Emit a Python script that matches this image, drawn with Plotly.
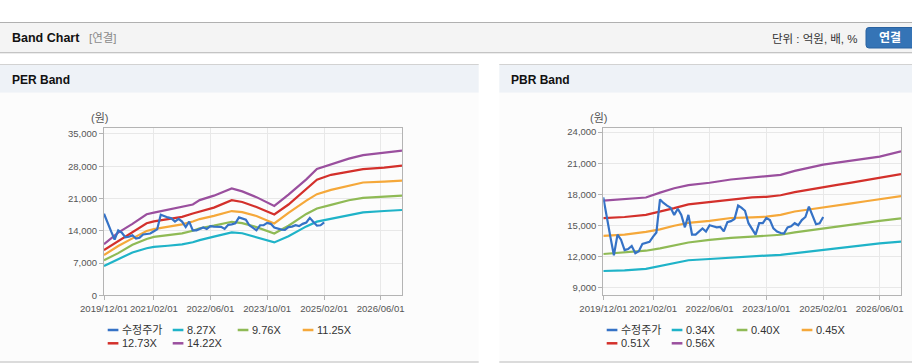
import plotly.graph_objects as go
import pandas as pd

# ---------------- data ----------------
price_dates = pd.date_range("2019-12-01", "2025-02-01", freq="MS")
price = [17700, 15600, 13800, 12100, 14100, 13600, 12600, 12700, 13000, 12300,
         12500, 13200, 13300, 13400, 13900, 14300, 17500, 17150, 16900, 16700,
         16000, 16600, 16000, 14800, 16000, 14100, 14100, 14400, 14700, 14400,
         15000, 14900, 14800, 14850, 14400, 15300, 15400, 15600, 16900, 16700,
         16400, 15200, 14600, 14100, 15200, 15200, 15700, 15500, 14700, 14400,
         14250, 14200, 14800, 14900, 15200, 15000, 15500, 15800, 16800, 15900,
         15100, 15200, 15800]

per_dates = ["2019-12-01", "2020-04-01", "2020-08-01", "2020-12-01", "2021-02-01",
             "2021-06-01", "2021-10-01", "2022-01-01", "2022-03-01", "2022-07-01",
             "2022-12-01", "2023-03-01", "2023-07-01", "2023-12-01", "2024-04-01",
             "2024-09-01", "2024-12-01", "2025-04-01", "2025-09-01", "2026-01-01",
             "2026-07-01", "2026-12-01"]
per_827 = [6360, 7800, 9300, 10200, 10520, 10750, 11050, 11500, 11980, 12740,
           13650, 13470, 12650, 11480, 12800, 14950, 15980, 16580, 17380, 18000,
           18290, 18510]
per_976 = [7590, 9150, 10950, 12220, 12680, 13100, 13430, 14000, 14520, 15110,
           15950, 15650, 14800, 13420, 15100, 17650, 18850, 19620, 20620, 21150,
           21400, 21610]
per_1125 = [8750, 10700, 12350, 13950, 14350, 14920, 15380, 16000, 16540, 17230,
            18280, 18050, 17200, 15600, 17900, 20550, 21950, 22880, 23720, 24480,
            24660, 24870]
per_1273 = [9800, 11800, 13800, 15620, 16050, 16600, 17020, 17750, 18120, 19030,
            20650, 20250, 19150, 17550, 19700, 23000, 25100, 26140, 26780, 27380,
            27700, 28120]
per_1422 = [11100, 13600, 15500, 17580, 17950, 18550, 19150, 19700, 20650, 21620,
            23200, 22550, 21300, 19400, 21850, 25150, 27400, 28450, 29650, 30400,
            30950, 31380]

pbr_dates = ["2019-12-01", "2020-06-01", "2020-12-01", "2021-04-01", "2021-08-01",
             "2021-12-01", "2022-06-01", "2022-12-01", "2023-06-01", "2023-10-01",
             "2024-02-01", "2024-06-01", "2024-10-01", "2025-02-01", "2025-06-01",
             "2025-10-01", "2026-02-01", "2026-06-01", "2026-12-01"]
pbr_034 = [10580, 10630, 10780, 11050, 11390, 11620, 11740, 11890, 12020, 12070,
           12140, 12300, 12460, 12610, 12760, 12940, 13120, 13250, 13410]
pbr_040 = [12220, 12350, 12540, 12770, 13050, 13330, 13580, 13780, 13900, 13980,
           14080, 14310, 14500, 14710, 14880, 15060, 15250, 15420, 15660]
pbr_045 = [13980, 14100, 14360, 14600, 14950, 15230, 15430, 15700, 15760, 15830,
           16000, 16330, 16520, 16740, 16930, 17120, 17320, 17520, 17820]
pbr_051 = [15680, 15800, 16000, 16300, 16650, 17020, 17250, 17500, 17700, 17750,
           17900, 18200, 18450, 18720, 18900, 19120, 19350, 19560, 19950]
pbr_056 = [17380, 17500, 17680, 18150, 18580, 18880, 19110, 19420, 19610, 19700,
           19870, 20250, 20530, 20860, 21050, 21240, 21500, 21640, 22150]

x_tickvals = ["2019-12-01", "2021-02-01", "2022-06-01", "2023-10-01", "2025-02-01", "2026-06-01"]
x_ticktext = ["2019/12/01", "2021/02/01", "2022/06/01", "2023/10/01", "2025/02/01", "2026/06/01"]
per_yticks = [0, 7000, 14000, 21000, 28000, 35000]
pbr_yticks = [9000, 12000, 15000, 18000, 21000, 24000]

per_names = ["수정주가", "8.27X", "9.76X", "11.25X", "12.73X", "14.22X"]
pbr_names = ["수정주가", "0.34X", "0.40X", "0.45X", "0.51X", "0.56X"]
colors = ["#3572c6", "#1fb3c8", "#8fba55", "#f5a83a", "#d3302b", "#9a4f9e"]

# ---------------- figure ----------------
W, H = 912, 364
FONT = "Liberation Sans, Arial, Noto Sans CJK KR, sans-serif"


def px(x):
    return x / W


def py(y):
    return 1 - y / H


fig = go.Figure()

per_series = [per_827, per_976, per_1125, per_1273, per_1422]
pbr_series = [pbr_034, pbr_040, pbr_045, pbr_051, pbr_056]

for i, s in enumerate(per_series):
    fig.add_trace(go.Scatter(x=per_dates, y=s, mode="lines", name=per_names[i + 1],
                             line=dict(color=colors[i + 1], width=2.2),
                             xaxis="x", yaxis="y", showlegend=False))
fig.add_trace(go.Scatter(x=price_dates, y=price, mode="lines", name=per_names[0],
                         line=dict(color=colors[0], width=2.2),
                         xaxis="x", yaxis="y", showlegend=False))

for i, s in enumerate(pbr_series):
    fig.add_trace(go.Scatter(x=pbr_dates, y=s, mode="lines", name=pbr_names[i + 1],
                             line=dict(color=colors[i + 1], width=2.2),
                             xaxis="x2", yaxis="y2", showlegend=False))
fig.add_trace(go.Scatter(x=price_dates, y=price, mode="lines", name=pbr_names[0],
                         line=dict(color=colors[0], width=2.2),
                         xaxis="x2", yaxis="y2", showlegend=False))

axis_common = dict(showline=True, mirror=True, linecolor="#b4b4b4", linewidth=1,
                   showgrid=True, gridcolor="#e8e8e8", zeroline=False, automargin=False,
                   ticks="outside", ticklen=4, tickcolor="#b4b4b4", tickangle=0)
xfont = dict(family=FONT, size=9.6, color="#555555")
yfont = dict(family=FONT, size=9.5, color="#555555")

L_x0, L_x1 = 104, 402
R_x0, R_x1 = 603.3, 901
Y_top, Y_bot = 128, 295.3

fig.update_layout(
    template="none",
    width=W, height=H,
    margin=dict(l=0, r=0, t=0, b=0, pad=0, autoexpand=False),
    paper_bgcolor="white", plot_bgcolor="white",
    font=dict(family=FONT, size=11, color="#333333"),
    showlegend=False,
    xaxis=dict(domain=[px(L_x0), px(L_x1)], type="date",
               range=["2019-12-01", "2026-12-01"], tickfont=xfont,
               tickvals=x_tickvals, ticktext=x_ticktext, anchor="y", **axis_common),
    yaxis=dict(domain=[py(Y_bot), py(Y_top)], range=[0, 36300], tickfont=yfont,
               tickvals=per_yticks, tickformat=",d", anchor="x", **axis_common),
    xaxis2=dict(domain=[px(R_x0), px(R_x1)], type="date",
                range=["2019-12-01", "2026-12-01"], tickfont=xfont,
                tickvals=x_tickvals, ticktext=x_ticktext, anchor="y2", **axis_common),
    yaxis2=dict(domain=[py(Y_bot), py(Y_top)], range=[8230, 24400], tickfont=yfont,
                tickvals=pbr_yticks, tickformat=",d", anchor="x2", **axis_common),
)

shapes = []
annos = []

# top border + header bar
shapes.append(dict(type="rect", xref="paper", yref="paper", x0=0, x1=1,
                   y0=py(52.5), y1=py(22.5), fillcolor="#f4f4f4", line=dict(width=0), layer="below"))
shapes.append(dict(type="line", xref="paper", yref="paper", x0=0, x1=1,
                   y0=py(22.5), y1=py(22.5), line=dict(color="#b0b0b0", width=1)))
shapes.append(dict(type="line", xref="paper", yref="paper", x0=0, x1=1,
                   y0=py(52.5), y1=py(52.5), line=dict(color="#c4c4c4", width=1)))
shapes.append(dict(type="line", xref="paper", yref="paper", x0=0, x1=1,
                   y0=py(53.5), y1=py(53.5), line=dict(color="#ececec", width=1)))

# panel headers
for (x0, x1) in [(0, 478.7), (499.3, 912)]:
    shapes.append(dict(type="rect", xref="paper", yref="paper", x0=px(x0), x1=px(x1),
                       y0=py(92.7), y1=py(64.5), fillcolor="#eef2f7", line=dict(width=0), layer="below"))
    shapes.append(dict(type="line", xref="paper", yref="paper", x0=px(x0), x1=px(x1),
                       y0=py(64.5), y1=py(64.5), line=dict(color="#d2d2d2", width=1)))
    shapes.append(dict(type="rect", xref="paper", yref="paper", x0=px(x0), x1=px(x1),
                       y0=py(361.5), y1=py(92.7), fillcolor="#fcfcfc", line=dict(width=0), layer="below"))
    shapes.append(dict(type="line", xref="paper", yref="paper", x0=px(x0), x1=px(x1),
                       y0=py(362), y1=py(362), line=dict(color="#cfcfcf", width=1.5)))

# blue button (rounded left side)
bx0, bx1, by0, by1, r = 866, 914, 27.5, 48, 3
path = (f"M {px(bx0 + r)},{py(by0)} L {px(bx1)},{py(by0)} L {px(bx1)},{py(by1)} "
        f"L {px(bx0 + r)},{py(by1)} Q {px(bx0)},{py(by1)} {px(bx0)},{py(by1 - r)} "
        f"L {px(bx0)},{py(by0 + r)} Q {px(bx0)},{py(by0)} {px(bx0 + r)},{py(by0)} Z")
shapes.append(dict(type="path", xref="paper", yref="paper", path=path,
                   fillcolor="#3574b6", line=dict(color="#2a62a0", width=1)))


def text(x, y, s, size=12, color="#222222", bold=False, xanchor="left"):
    annos.append(dict(xref="paper", yref="paper", x=px(x), y=py(y), text=(f"<b>{s}</b>" if bold else s),
                      showarrow=False, xanchor=xanchor, yanchor="middle",
                      xshift=(-1 if xanchor == "left" else 0),
                      font=dict(family=FONT, size=size, color=color)))


text(11, 38.5, "Band Chart", 12.5, "#111111", True)
text(88, 38.5, "[연결]", 11.5, "#8a8a8a")
text(860, 38.5, "단위 : 억원, 배, %", 11.5, "#333333", xanchor="right")
text(890, 38, "연결", 12, "white", True, xanchor="center")
text(11, 80, "PER Band", 12, "#111111", True)
text(510, 80, "PBR Band", 12, "#111111", True)
text(99, 118, "(원)", 11, "#555555", xanchor="center")
text(598, 118, "(원)", 11, "#555555", xanchor="center")


# custom legends
def legend(x_start, names):
    col_w = 65
    for i, n in enumerate(names):
        row, col = divmod(i, 4)
        xs = x_start + col * col_w
        yy = 330 + row * 13.3
        shapes.append(dict(type="line", xref="paper", yref="paper",
                           x0=px(xs), x1=px(xs + 10.7), y0=py(yy), y1=py(yy),
                           line=dict(color=colors[i], width=2.5)))
        text(xs + 13, yy, n, 11, "#333333")


legend(107.7, per_names)
legend(606.7, pbr_names)

fig.update_layout(shapes=shapes, annotations=annos)
fig.write_html("out.html", config={"displayModeBar": False})

# remove default page margins so the figure maps 1:1 to the window
with open("out.html", "r", encoding="utf-8") as f:
    html = f.read()
html = html.replace("<head>", "<head><style>html,body{margin:0;padding:0;overflow:hidden;}</style>", 1)
with open("out.html", "w", encoding="utf-8") as f:
    f.write(html)
